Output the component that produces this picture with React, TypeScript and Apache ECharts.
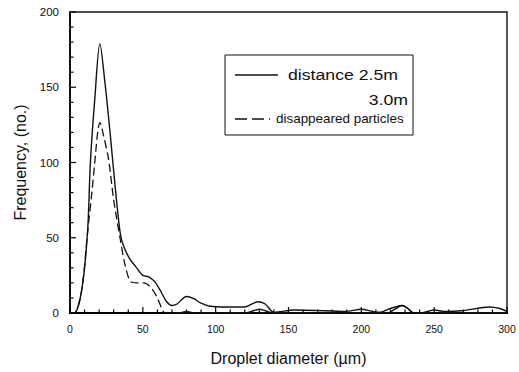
import React, { useEffect, useRef } from "react";
import * as echarts from "echarts";

// Droplet diameter (µm) and frequency readings
const dist25X = [0, 3, 8, 12, 14, 17, 20.5, 24, 27.5, 31, 34.5, 37, 41, 45, 50, 54, 58, 62, 66, 70, 73.5, 80, 85, 90, 96, 108, 120, 125, 129, 134, 140, 154, 175, 189, 200, 208, 212, 220, 228, 232, 236, 241, 250, 257, 269, 288, 295, 300];
const dist25Y = [0, 0, 15, 53, 100, 142, 179, 153, 120, 84, 53, 44, 36, 31, 25, 24, 21, 15, 8, 5, 6, 11, 9.5, 6.5, 4.5, 4, 4, 6, 7.5, 6, 0.5, 2, 1.5, 1, 2.5, 1, 0.5, 3, 5, 3, 0, 0, 2, 1, 1.5, 4, 3, 1];

const dist30X = [66, 75, 80, 85, 120, 126, 130, 134, 140, 200, 218, 223, 228, 232, 236, 300];
const dist30Y = [0, 0, 1, 0, 0, 1.5, 2.5, 1.5, 0, 0, 0, 2.5, 5, 3, 0, 0];

const disappX = [0, 3, 8, 12, 15, 17, 19, 20.5, 23, 26.5, 30, 34.5, 38, 41.5, 46, 50.5, 55, 59.5, 64, 66, 300];
const disappY = [0, 0, 15, 53, 80, 100, 120, 126.5, 118, 102, 75, 49, 31, 21, 20, 20, 17.5, 11, 1, 0, 0];

const xTicks = [0, 50, 100, 150, 200, 250, 300];
const yTicks = [0, 50, 100, 150, 200];
const minorStep = 10;

const pairs = (xs: number[], ys: number[]) => xs.map((x, i) => [x, ys[i]]);
const tickValues = (ticks: number[]) => {
  const out: number[] = [];
  for (let v = ticks[0]; v <= ticks[ticks.length - 1]; v += minorStep) out.push(v);
  return out;
};

export default function App() {
  const ref = useRef<HTMLDivElement>(null);
  useEffect(() => {
    if (!ref.current) return;
    const chart = echarts.init(ref.current, null, { renderer: "svg" });
    const font = "Liberation Sans, Arial, sans-serif";
    const xMin = xTicks[0];
    const xMax = xTicks[xTicks.length - 1];
    const yMin = yTicks[0];
    const yMax = yTicks[yTicks.length - 1];
    const isMajor = (v: number) => v % 50 === 0;
    chart.setOption({
      animation: false,
      backgroundColor: "#fff",
      grid: { left: 70, right: 12, top: 12, bottom: 59, show: true, borderColor: "#111", borderWidth: 1.4 },
      xAxis: {
        type: "value",
        min: xMin,
        max: xMax,
        interval: 50,
        name: "Droplet diameter (µm)",
        nameLocation: "middle",
        nameGap: 37,
        nameTextStyle: { fontFamily: font, fontSize: 16, color: "#111" },
        axisLine: { show: true, lineStyle: { color: "#000", width: 2 } },
        axisTick: { show: false },
        minorTick: { show: false },
        splitLine: { show: false },
        axisLabel: { fontFamily: font, fontSize: 10.5, color: "#111", margin: 10 },
      },
      yAxis: {
        type: "value",
        min: yMin,
        max: yMax,
        interval: 50,
        name: "Frequency, (no.)",
        nameLocation: "middle",
        nameGap: 33,
        nameTextStyle: { fontFamily: font, fontSize: 16, color: "#111" },
        axisLine: { show: true, lineStyle: { color: "#000", width: 1.6 } },
        axisTick: { show: false },
        minorTick: { show: false },
        splitLine: { show: false },
        axisLabel: { fontFamily: font, fontSize: 11.5, color: "#111", margin: 11 },
      },
      series: [
        {
          name: "distance 2.5m",
          type: "line",
          data: pairs(dist25X, dist25Y),
          smooth: 0.3,
          showSymbol: false,
          lineStyle: { color: "#111", width: 1.4, type: "solid" },
        },
        {
          name: "3.0m",
          type: "line",
          data: pairs(dist30X, dist30Y),
          smooth: 0.3,
          showSymbol: false,
          lineStyle: { color: "#111", width: 1.4, type: "solid" },
        },
        {
          name: "disappeared particles",
          type: "line",
          data: pairs(disappX, disappY),
          smooth: 0.3,
          showSymbol: false,
          lineStyle: { color: "#111", width: 1.3, type: [8, 4] },
        },
        {
          name: "xTicks",
          type: "custom",
          silent: true,
          clip: false,
          data: tickValues(xTicks).map((v) => [v, yMin]),
          renderItem: (_params: any, api: any) => {
            const v = api.value(0);
            const p = api.coord([v, yMin]);
            const len = isMajor(v) ? 6 : 3.5;
            return {
              type: "line",
              shape: { x1: p[0], y1: p[1], x2: p[0], y2: p[1] - len },
              style: { stroke: "#000", lineWidth: 1.2 },
            };
          },
        },
        {
          name: "yTicks",
          type: "custom",
          silent: true,
          clip: false,
          data: tickValues(yTicks).map((v) => [xMin, v]),
          renderItem: (_params: any, api: any) => {
            const v = api.value(1);
            const p = api.coord([xMin, v]);
            const len = isMajor(v) ? 6 : 3.5;
            return {
              type: "line",
              shape: { x1: p[0], y1: p[1], x2: p[0] + len, y2: p[1] },
              style: { stroke: "#000", lineWidth: 1.2 },
            };
          },
        },
      ],
      graphic: [
        { type: "rect", shape: { x: 225, y: 55, width: 188, height: 80 }, style: { fill: "#fff", stroke: "#111", lineWidth: 1 } },
        { type: "line", shape: { x1: 235, y1: 75, x2: 278, y2: 75 }, style: { stroke: "#111", lineWidth: 1.3 } },
        { type: "text", x: 288, y: 75, scaleX: 1.18, style: { text: "distance 2.5m", fontFamily: font, fontSize: 15, fill: "#111", verticalAlign: "middle" } },
        { type: "text", x: 408, y: 100, scaleX: 1.18, style: { text: "3.0m", fontFamily: font, fontSize: 15, fill: "#111", align: "right", verticalAlign: "middle" } },
        { type: "line", shape: { x1: 235, y1: 119, x2: 270, y2: 119 }, style: { stroke: "#111", lineWidth: 1.3, lineDash: [12, 5] } },
        { type: "text", x: 276, y: 119, scaleX: 1.12, style: { text: "disappeared particles", fontFamily: font, fontSize: 12, fill: "#111", verticalAlign: "middle" } },
      ],
    });
    return () => chart.dispose();
  }, []);
  return <div ref={ref} style={{ width: 519, height: 372, position: "absolute", left: 0, top: 0 }} />;
}
